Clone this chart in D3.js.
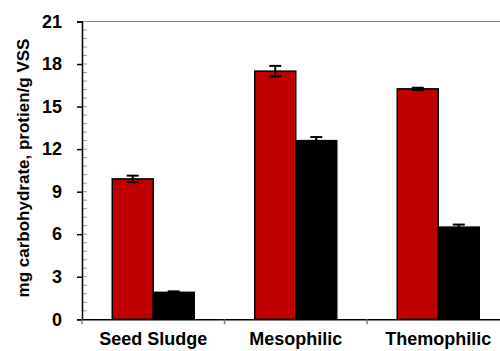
<!DOCTYPE html>
<html>
<head>
<meta charset="utf-8">
<script src="https://cdn.jsdelivr.net/npm/d3@7"></script>
<style>
  body { margin: 0; background: #fff; }
  text { font-family: Arial, "Liberation Sans", sans-serif; font-weight: bold; fill: #000; }
</style>
</head>
<body>
<div class="contain"></div>
<script>
const categories = ["Seed Sludge", "Mesophilic", "Themophilic"];
const series = ["carbohydrate", "protien"];
const carbohydrate = [9.9, 17.5, 16.25];
const carbohydrate_err = [0.23, 0.37, 0.08];
const protien = [1.9, 12.6, 6.5];
const protien_err = [0.07, 0.25, 0.18];
const y_ticks = [0, 3, 6, 9, 12, 15, 18, 21];

const svg_width = 500;
const svg_height = 351;
const plot_left = 82, plot_right = 509.5, plot_top = 21.5, plot_bottom = 319.3;
const colors = { carbohydrate: "#c00000", protien: "#000000" };

let svg = d3.select(".contain").append("svg")
            .attr("width", svg_width).attr("height", svg_height);

let xScale = d3.scaleBand().domain(categories).range([plot_left, plot_right]).padding(0);
let xSub = d3.scaleBand().domain(series).range([0, xScale.bandwidth()])
             .paddingInner(0).paddingOuter(0.738);
let yScale = d3.scaleLinear().domain([0, 21]).range([plot_bottom, plot_top]);

// top border of plot area
svg.append("line")
   .attr("x1", plot_left).attr("x2", plot_right).attr("y1", plot_top).attr("y2", plot_top)
   .attr("stroke", "#808080").attr("stroke-width", 1.2);

// minor y ticks (inside)
let minor = d3.range(0, 21.001, 0.6);
svg.append("g").selectAll("line").data(minor).enter().append("line")
   .attr("x1", plot_left).attr("x2", plot_left + 5)
   .attr("y1", d => yScale(d)).attr("y2", d => yScale(d))
   .attr("stroke", "#999").attr("stroke-width", 1);

// y axis
let yAxis = d3.axisLeft(yScale).tickValues(y_ticks).tickSize(5).tickPadding(15);
let gy = svg.append("g").attr("transform", `translate(${plot_left},0)`).call(yAxis);
gy.select(".domain").attr("stroke-width", 1.5);
gy.selectAll(".tick line").attr("stroke-width", 1.5);
gy.selectAll(".tick text").style("font-size", "18px").style("font-family", "Arial, 'Liberation Sans', sans-serif").style("font-weight", "bold");

// bars
let rows = categories.map((c, i) => [
  { cat: c, key: "carbohydrate", v: carbohydrate[i], e: carbohydrate_err[i] },
  { cat: c, key: "protien", v: protien[i], e: protien_err[i] }
]).flat();

let bars = svg.append("g");
bars.selectAll("rect").data(rows).enter().append("rect")
    .attr("x", d => xScale(d.cat) + xSub(d.key))
    .attr("width", xSub.bandwidth())
    .attr("y", d => yScale(d.v))
    .attr("height", d => yScale(0) - yScale(d.v))
    .attr("fill", d => colors[d.key])
    .attr("stroke", "#000").attr("stroke-width", 1.5);

// error bars
let eb = svg.append("g").attr("stroke", "#000").attr("stroke-width", 2);
rows.forEach(d => {
  let cx = xScale(d.cat) + xSub(d.key) + xSub.bandwidth() / 2;
  let lo = d.key === "protien" ? d.v : d.v - d.e;
  eb.append("line").attr("x1", cx).attr("x2", cx)
    .attr("y1", yScale(lo)).attr("y2", yScale(d.v + d.e));
  eb.append("line").attr("x1", cx - 6).attr("x2", cx + 6)
    .attr("y1", yScale(d.v + d.e)).attr("y2", yScale(d.v + d.e));
  if (d.key !== "protien") {
    eb.append("line").attr("x1", cx - 6).attr("x2", cx + 6)
      .attr("y1", yScale(d.v - d.e)).attr("y2", yScale(d.v - d.e));
  }
});

// x axis
let xAxis = d3.axisBottom(xScale).tickSize(0).tickPadding(13);
let gx = svg.append("g").attr("transform", `translate(0,${plot_bottom})`).call(xAxis);
gx.select(".domain").attr("stroke-width", 1.5);
gx.selectAll(".tick text").style("font-size", "18px").style("font-family", "Arial, 'Liberation Sans', sans-serif").style("font-weight", "bold");

// category boundary ticks
svg.append("g").selectAll("line").data(categories).enter().append("line")
   .attr("x1", d => xScale(d)).attr("x2", d => xScale(d))
   .attr("y1", plot_bottom).attr("y2", plot_bottom + 5)
   .attr("stroke", "#808080").attr("stroke-width", 1.5);

// y label
svg.append("text")
   .attr("transform", `translate(29,168) rotate(-90)`)
   .attr("text-anchor", "middle")
   .style("font-size", "17px")
   .text("mg carbohydrate, protien/g VSS");
</script>
</body>
</html>
